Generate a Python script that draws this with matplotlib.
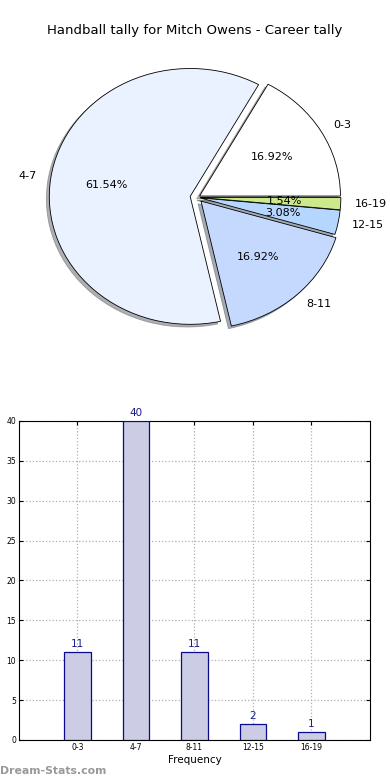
import matplotlib.pyplot as plt

categories = ["0-3", "4-7", "8-11", "12-15", "16-19"]
counts = [11, 40, 11, 2, 1]
slice_colors = ["#FFFFFF", "#EAF1FF", "#C5D9FF", "#B5D6FF", "#CCE98C"]
explode = [0.02, 0.05, 0.04, 0.02, 0.02]
yticks = [0, 5, 10, 15, 20, 25, 30, 35, 40]

fig = plt.figure(figsize=(3.9, 7.8), dpi=100)
fig.text(0.5, 0.961, "Handball tally for Mitch Owens - Career tally",
         ha="center", va="center", fontsize=9.5)

# pie (stretched, not circular, like the original)
ax1 = fig.add_axes([0.054, 0.542, 0.903, 0.41])
wedges, texts, autotexts = ax1.pie(
    counts, labels=categories, colors=slice_colors, explode=explode,
    autopct="%.2f%%", startangle=0, counterclock=True,
    shadow={"ox": -0.015, "oy": -0.015, "shade": 0.6},
    wedgeprops={"edgecolor": "black", "linewidth": 0.6},
    textprops={"fontsize": 8})
ax1.set_aspect("auto")

# bars
ax2 = fig.add_axes([0.0487, 0.0513, 0.9, 0.409])
x = list(range(len(categories)))
bars = ax2.bar(x, counts, width=0.45, color="#CCCCE4", edgecolor="#0A0A8C",
               linewidth=0.9, zorder=3)
for xi, c in zip(x, counts):
    ax2.text(xi, c + 0.4, str(c), ha="center", va="bottom", fontsize=7.5,
             color="#1A1A8C", clip_on=False)
ax2.set_xlim(-1, 5)
ax2.set_ylim(0, 40)
ax2.set_xticks(x)
ax2.set_xticklabels(categories, fontsize=5.5)
ax2.set_yticks(yticks)
ax2.tick_params(axis="y", labelsize=5.5)
ax2.tick_params(direction="in", length=3, top=True, right=True, pad=2)
ax2.grid(True, linestyle=":", color="#b0b0b0", linewidth=0.9, zorder=0)
ax2.set_xlabel("Frequency", fontsize=7.5, labelpad=2)
for s in ax2.spines.values():
    s.set_linewidth(0.8)

fig.text(0.0, 0.012, "Dream-Stats.com", fontsize=7.8, color="#999999",
         fontweight="bold", ha="left", va="center")

plt.savefig("out.png", dpi=100)
